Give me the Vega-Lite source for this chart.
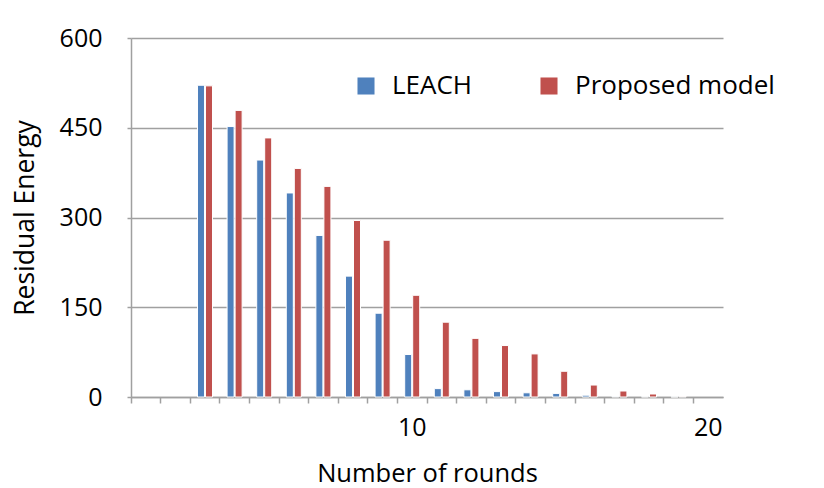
{
  "$schema": "https://vega.github.io/schema/vega-lite/v6.json",
  "width": 592,
  "height": 359,
  "autosize": {"type": "none"},
  "padding": {"left": 131, "top": 38, "right": 101, "bottom": 91},
  "background": "white",
  "data": {
    "values": [
      {"round": 3, "series": "LEACH", "energy": 521},
      {"round": 3, "series": "Proposed model", "energy": 520},
      {"round": 4, "series": "LEACH", "energy": 452},
      {"round": 4, "series": "Proposed model", "energy": 479},
      {"round": 5, "series": "LEACH", "energy": 396},
      {"round": 5, "series": "Proposed model", "energy": 433},
      {"round": 6, "series": "LEACH", "energy": 341},
      {"round": 6, "series": "Proposed model", "energy": 382},
      {"round": 7, "series": "LEACH", "energy": 270},
      {"round": 7, "series": "Proposed model", "energy": 352},
      {"round": 8, "series": "LEACH", "energy": 202},
      {"round": 8, "series": "Proposed model", "energy": 295},
      {"round": 9, "series": "LEACH", "energy": 140},
      {"round": 9, "series": "Proposed model", "energy": 262},
      {"round": 10, "series": "LEACH", "energy": 71},
      {"round": 10, "series": "Proposed model", "energy": 170},
      {"round": 11, "series": "LEACH", "energy": 14},
      {"round": 11, "series": "Proposed model", "energy": 125},
      {"round": 12, "series": "LEACH", "energy": 12},
      {"round": 12, "series": "Proposed model", "energy": 98},
      {"round": 13, "series": "LEACH", "energy": 9},
      {"round": 13, "series": "Proposed model", "energy": 86},
      {"round": 14, "series": "LEACH", "energy": 7},
      {"round": 14, "series": "Proposed model", "energy": 72},
      {"round": 15, "series": "LEACH", "energy": 6},
      {"round": 15, "series": "Proposed model", "energy": 43},
      {"round": 16, "series": "LEACH", "energy": 3},
      {"round": 16, "series": "Proposed model", "energy": 20},
      {"round": 17, "series": "LEACH", "energy": 1},
      {"round": 17, "series": "Proposed model", "energy": 10},
      {"round": 18, "series": "LEACH", "energy": 0.5},
      {"round": 18, "series": "Proposed model", "energy": 5},
      {"round": 19, "series": "LEACH", "energy": 0.3},
      {"round": 19, "series": "Proposed model", "energy": 1}
    ]
  },
  "mark": {"type": "bar", "stroke": "white", "strokeWidth": 1},
  "encoding": {
    "x": {
      "field": "round",
      "type": "ordinal",
      "scale": {
        "domain": [1, 2, 3, 4, 5, 6, 7, 8, 9, 10, 11, 12, 13, 14, 15, 16, 17, 18, 19, 20],
        "paddingInner": 0,
        "paddingOuter": 0
      },
      "axis": {
        "title": "Number of rounds",
        "bandPosition": 0,
        "labelAngle": 0,
        "labelExpr": "datum.value == 10 || datum.value == 20 ? datum.label : ''",
        "labelOverlap": false,
        "tickSize": 6,
        "tickWidth": 1.5,
        "labelPadding": 12,
        "titlePadding": 21,
        "grid": false,
        "domainColor": "#a0a0a0",
        "domainWidth": 1.5,
        "tickColor": "#a0a0a0",
        "labelFontSize": 25,
        "labelColor": "#000000",
        "titleFontSize": 25.5,
        "titleFontWeight": "normal",
        "titleColor": "#000000"
      }
    },
    "y": {
      "field": "energy",
      "type": "quantitative",
      "scale": {"domain": [0, 600], "nice": false},
      "axis": {
        "title": "Residual Energy",
        "values": [0, 150, 300, 450, 600],
        "grid": true,
        "gridColor": "#a0a0a0",
        "gridWidth": 1.5,
        "domainColor": "#a0a0a0",
        "domainWidth": 1.5,
        "tickColor": "#a0a0a0",
        "tickSize": 4,
        "tickWidth": 1.5,
        "labelPadding": 25,
        "labelFontSize": 25,
        "labelColor": "#000000",
        "titleFontSize": 26.5,
        "titleFontWeight": "normal",
        "titleColor": "#000000",
        "titlePadding": 20
      }
    },
    "xOffset": {
      "field": "series",
      "scale": {"paddingInner": 0.125, "paddingOuter": 0.91}
    },
    "color": {
      "field": "series",
      "type": "nominal",
      "scale": {"domain": ["LEACH", "Proposed model"], "range": ["#4F81BD", "#C0504D"]},
      "legend": {
        "title": null,
        "orient": "none",
        "legendX": 222,
        "legendY": 35,
        "direction": "horizontal",
        "symbolType": "square",
        "symbolSize": 290,
        "symbolStrokeWidth": 0,
        "labelFontSize": 26,
        "labelColor": "#000000",
        "labelLimit": 400,
        "labelOffset": 13,
        "columnPadding": 63,
        "padding": 0
      }
    }
  },
  "config": {
    "view": {"stroke": null},
    "font": "Open Sans"
  }
}
